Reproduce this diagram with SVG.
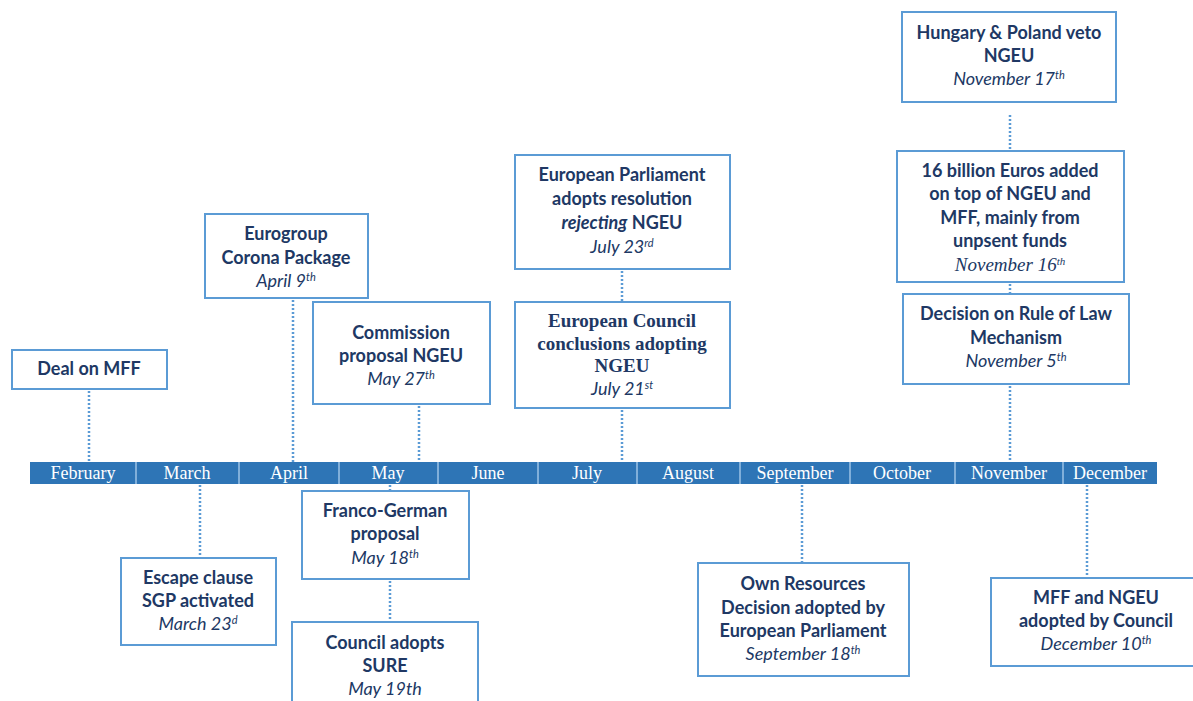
<svg xmlns="http://www.w3.org/2000/svg" width="1193" height="701" viewBox="0 0 1193 701">
<style>
.box{fill:#fff;stroke:#5b9bd5;stroke-width:2}
.t{font-family:Lato,"Open Sans","Liberation Sans",sans-serif;font-size:18px;font-weight:bold;fill:#203864;text-anchor:middle}
.d{font-family:Lato,"Open Sans","Liberation Sans",sans-serif;font-size:18px;font-style:italic;fill:#203864;text-anchor:middle}
.s{font-family:"Liberation Serif","Times New Roman",serif;font-size:19px;font-weight:bold;fill:#203864;text-anchor:middle}
.si{font-family:"Liberation Serif","Times New Roman",serif;font-size:19px;font-style:italic;fill:#203864;text-anchor:middle}
.m{font-family:"Liberation Serif","Times New Roman",serif;font-size:18px;fill:#fff;text-anchor:middle}
.sup{font-size:11px}
.c line{stroke:#5b9bd5;stroke-width:2.5;stroke-dasharray:2 2}
</style>
<rect width="1193" height="701" fill="#fff"/>
<g id="connectors" class="c">
<line x1="89" y1="391" x2="89" y2="462"/>
<line x1="293" y1="300" x2="293" y2="462"/>
<line x1="419" y1="406" x2="419" y2="462"/>
<line x1="622" y1="271" x2="622" y2="301"/>
<line x1="622" y1="410" x2="622" y2="462"/>
<line x1="1010" y1="115" x2="1010" y2="150"/>
<line x1="1010" y1="284" x2="1010" y2="293"/>
<line x1="1010" y1="386" x2="1010" y2="462"/>
<line x1="200" y1="485" x2="200" y2="557"/>
<line x1="390" y1="485" x2="390" y2="490"/>
<line x1="390" y1="581" x2="390" y2="621"/>
<line x1="802" y1="485" x2="802" y2="562"/>
<line x1="1087" y1="485" x2="1087" y2="577"/>
</g>
<g id="timeline">
<rect x="30" y="462" width="1127" height="22" fill="#2e75b6"/>
<g stroke="#9dc3e6" stroke-width="1.5">
<line x1="136" y1="462" x2="136" y2="484"/>
<line x1="239" y1="462" x2="239" y2="484"/>
<line x1="339" y1="462" x2="339" y2="484"/>
<line x1="438" y1="462" x2="438" y2="484"/>
<line x1="538" y1="462" x2="538" y2="484"/>
<line x1="637" y1="462" x2="637" y2="484"/>
<line x1="740" y1="462" x2="740" y2="484"/>
<line x1="850" y1="462" x2="850" y2="484"/>
<line x1="955" y1="462" x2="955" y2="484"/>
<line x1="1063" y1="462" x2="1063" y2="484"/>
</g>
<text class="m" x="83" y="479">February</text>
<text class="m" x="187" y="479">March</text>
<text class="m" x="289" y="479">April</text>
<text class="m" x="388" y="479">May</text>
<text class="m" x="488" y="479">June</text>
<text class="m" x="587" y="479">July</text>
<text class="m" x="688" y="479">August</text>
<text class="m" x="795" y="479">September</text>
<text class="m" x="902" y="479">October</text>
<text class="m" x="1009" y="479">November</text>
<text class="m" x="1110" y="479">December</text>
</g>
<g id="deal-mff">
<rect class="box" x="12" y="350" width="155" height="39"/>
<text class="t" x="89" y="375">Deal on MFF</text>
</g>
<g id="eurogroup">
<rect class="box" x="205" y="214" width="163" height="84"/>
<text class="t" x="286" y="240">Eurogroup</text>
<text class="t" x="286" y="264">Corona Package</text>
<text class="d" x="286" y="287">April 9<tspan class="sup" dy="-6">th</tspan></text>
</g>
<g id="commission">
<rect class="box" x="313" y="302" width="177" height="102"/>
<text class="t" x="401" y="339">Commission</text>
<text class="t" x="401" y="362">proposal NGEU</text>
<text class="d" x="401" y="385">May 27<tspan class="sup" dy="-6">th</tspan></text>
</g>
<g id="ep-resolution">
<rect class="box" x="515" y="155" width="215" height="114"/>
<text class="t" x="622" y="181">European Parliament</text>
<text class="t" x="622" y="205">adopts resolution</text>
<text class="t" x="622" y="229"><tspan font-style="italic">rejecting</tspan> NGEU</text>
<text class="d" x="622" y="253">July 23<tspan class="sup" dy="-6">rd</tspan></text>
</g>
<g id="ec-conclusions">
<rect class="box" x="515" y="302" width="215" height="106"/>
<text class="s" x="622" y="327">European Council</text>
<text class="s" x="622" y="350">conclusions adopting</text>
<text class="s" x="622" y="372">NGEU</text>
<text class="d" x="622" y="395">July 21<tspan class="sup" dy="-6">st</tspan></text>
</g>
<g id="hungary-poland">
<rect class="box" x="902" y="12" width="214" height="90"/>
<text class="t" x="1009" y="39">Hungary &amp; Poland veto</text>
<text class="t" x="1009" y="62">NGEU</text>
<text class="d" x="1009" y="85">November 17<tspan class="sup" dy="-6">th</tspan></text>
</g>
<g id="sixteen-billion">
<rect class="box" x="897" y="151" width="227" height="131"/>
<text class="t" x="1010" y="177">16 billion Euros added</text>
<text class="t" x="1010" y="200">on top of NGEU and</text>
<text class="t" x="1010" y="224">MFF, mainly from</text>
<text class="t" x="1010" y="247">unpsent funds</text>
<text class="si" x="1010" y="271">November 16<tspan class="sup" dy="-6">th</tspan></text>
</g>
<g id="rule-of-law">
<rect class="box" x="903" y="294" width="226" height="90"/>
<text class="t" x="1016" y="320">Decision on Rule of Law</text>
<text class="t" x="1016" y="344">Mechanism</text>
<text class="d" x="1016" y="367">November 5<tspan class="sup" dy="-6">th</tspan></text>
</g>
<g id="escape-clause">
<rect class="box" x="121" y="558" width="155" height="87"/>
<text class="t" x="198" y="584">Escape clause</text>
<text class="t" x="198" y="607">SGP activated</text>
<text class="d" x="198" y="630">March 23<tspan class="sup" dy="-6">d</tspan></text>
</g>
<g id="franco-german">
<rect class="box" x="302" y="491" width="167" height="88"/>
<text class="t" x="385" y="517">Franco-German</text>
<text class="t" x="385" y="540">proposal</text>
<text class="d" x="385" y="564">May 18<tspan class="sup" dy="-6">th</tspan></text>
</g>
<g id="council-sure">
<rect class="box" x="292" y="622" width="186" height="90"/>
<text class="t" x="385" y="649">Council adopts</text>
<text class="t" x="385" y="672">SURE</text>
<text class="d" x="385" y="695">May 19th</text>
</g>
<g id="own-resources">
<rect class="box" x="698" y="563" width="211" height="113"/>
<text class="t" x="803" y="590">Own Resources</text>
<text class="t" x="803" y="614">Decision adopted by</text>
<text class="t" x="803" y="637">European Parliament</text>
<text class="d" x="803" y="660">September 18<tspan class="sup" dy="-6">th</tspan></text>
</g>
<g id="mff-ngeu-council">
<rect class="box" x="991" y="578" width="215" height="88"/>
<text class="t" x="1096" y="604">MFF and NGEU</text>
<text class="t" x="1096" y="627">adopted by Council</text>
<text class="d" x="1096" y="650">December 10<tspan class="sup" dy="-6">th</tspan></text>
</g>
</svg>
